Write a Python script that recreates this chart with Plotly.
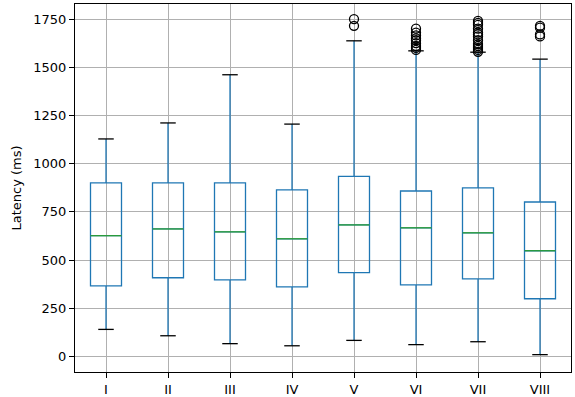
import plotly.graph_objects as go

# box statistics (ms)
groups = ["I", "II", "III", "IV", "V", "VI", "VII", "VIII"]
q1 = [366, 408, 397, 361, 434, 371, 402, 299]
median = [626, 661, 646, 610, 682, 667, 641, 548]
q3 = [900, 900, 900, 864, 934, 858, 874, 801]
lower = [140, 107, 66, 55, 83, 61, 76, 9]
upper = [1128, 1211, 1461, 1205, 1637, 1585, 1578, 1542]

outliers = {
    "V": [1715, 1750],
    "VI": [1590, 1600, 1610, 1625, 1640, 1650, 1665, 1680, 1700],
    "VII": [1580, 1590, 1600, 1610, 1620, 1640, 1660, 1670, 1680, 1700, 1720, 1730, 1740],
    "VIII": [1660, 1670, 1705, 1715],
}

pos = list(range(1, len(groups) + 1))
blue = "#1f77b4"
green = "#2ca02c"

fig = go.Figure()

fig.add_trace(go.Box(x=pos, q1=q1, median=median, q3=q3,
                     lowerfence=lower, upperfence=upper,
                     width=0.5, whiskerwidth=0,
                     line=dict(color=blue, width=1.3),
                     fillcolor="rgba(0,0,0,0)",
                     boxpoints=False, hoverinfo="skip", showlegend=False))

# medians (green) and whisker caps (black)
mx, my, cx, cy = [], [], [], []
for p, m, lo, hi in zip(pos, median, lower, upper):
    mx += [p - 0.25, p + 0.25, None]
    my += [m, m, None]
    for v in (lo, hi):
        cx += [p - 0.125, p + 0.125, None]
        cy += [v, v, None]
fig.add_trace(go.Scatter(x=mx, y=my, mode="lines", line=dict(color=green, width=1.2),
                         showlegend=False, hoverinfo="skip"))
fig.add_trace(go.Scatter(x=cx, y=cy, mode="lines", line=dict(color="black", width=1.3),
                         showlegend=False, hoverinfo="skip"))

ox, oy = [], []
for g, vals in outliers.items():
    p = pos[groups.index(g)]
    ox += [p] * len(vals)
    oy += vals
fig.add_trace(go.Scatter(x=ox, y=oy, mode="markers",
                         marker=dict(symbol="circle-open", size=9, color="black",
                                     line=dict(width=1.3)),
                         showlegend=False))

fig.update_xaxes(range=[0.5, 8.5], tickvals=pos, ticktext=groups, automargin=False,
                 showgrid=True, gridcolor="#b0b0b0", gridwidth=1,
                 showline=True, linecolor="black", linewidth=1, mirror=True,
                 ticks="outside", ticklen=5, tickcolor="black", zeroline=False)
fig.update_yaxes(range=[-81, 1828], tickvals=[0, 250, 500, 750, 1000, 1250, 1500, 1750],
                 title_text="Latency (ms)", title_standoff=8, automargin=False,
                 title_font=dict(size=13),
                 showgrid=True, gridcolor="#b0b0b0", gridwidth=1,
                 showline=True, linecolor="black", linewidth=1, mirror=True,
                 ticks="outside", ticklen=5, tickcolor="black", zeroline=False)
fig.update_layout(width=575, height=397,
                  margin=dict(l=75, r=4, t=4, b=25),
                  plot_bgcolor="white", paper_bgcolor="white",
                  font=dict(family="DejaVu Sans", size=13, color="black"))

# the page's default body margin would push the figure off by 8px
fig.write_html("out.html", config={"displayModeBar": False},
               post_script="document.body.style.margin='0';")
